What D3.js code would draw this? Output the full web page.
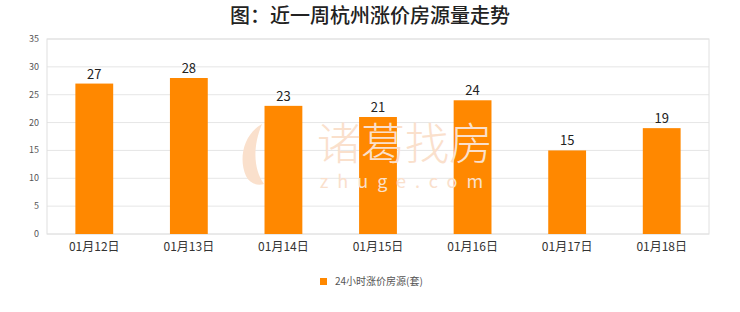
<!DOCTYPE html>
<html>
<head>
<meta charset="utf-8">
<script src="https://cdn.jsdelivr.net/npm/d3@7"></script>
<style>
  body { margin:0; background:#fff; }
  svg text { font-family: "Noto Sans CJK SC", "DejaVu Sans", sans-serif; }
</style>
</head>
<body>
<div id="chart"></div>
<script>
// data
const dates = ["01月12日","01月13日","01月14日","01月15日","01月16日","01月17日","01月18日"];
const counts = [27, 28, 23, 21, 24, 15, 19];
const yTicks = [0, 5, 10, 15, 20, 25, 30, 35];
const seriesName = "24小时涨价房源(套)";
const titleText = "图：近一周杭州涨价房源量走势";

const W = 740, H = 312;
const margin = {top: 39, right: 31, bottom: 78, left: 47};
const width = W - margin.left - margin.right;
const height = H - margin.top - margin.bottom;
const serif = "'Liberation Serif', 'DejaVu Serif', 'Noto Sans CJK SC', serif";

let svg = d3.select("#chart").append("svg")
    .attr("width", W)
    .attr("height", H);

svg.append("rect").attr("width", W).attr("height", H).attr("fill", "#ffffff");

svg.append("text")
    .attr("x", W / 2)
    .attr("y", 23)
    .attr("text-anchor", "middle")
    .attr("font-size", 20)
    .attr("font-weight", 500)
    .attr("fill", "#222")
    .text(titleText);

let plot = svg.append("g")
    .attr("transform", "translate(" + margin.left + "," + margin.top + ")");

let x = d3.scaleBand().domain(dates).range([0, width]).paddingInner(0.6).paddingOuter(0.3);
let y = d3.scaleLinear().domain([0, 35]).range([height, 0]);

// grid lines
plot.selectAll("line.grid")
    .data(yTicks)
    .enter()
        .append("line")
        .attr("class", "grid")
        .attr("x1", 0).attr("x2", width)
        .attr("y1", d => y(d)).attr("y2", d => y(d))
        .attr("stroke", "#e6e6e6")
        .attr("stroke-width", 1);

// plot frame
plot.append("rect")
    .attr("x", 0).attr("y", 0)
    .attr("width", width).attr("height", height)
    .attr("fill", "none")
    .attr("stroke", "#e0e0e0");

// faint watermark behind the bars
let wm = svg.append("g").attr("fill", "#fae0cc");
wm.append("path")
    .attr("d", "M262,124 C244,134 238,158 246,176 C250,184 258,186 264,184 C254,170 252,148 262,124 Z");
wm.append("text")
    .attr("x", 405).attr("y", 160)
    .attr("text-anchor", "middle")
    .attr("font-size", 44)
    .attr("font-weight", 300)
    .text("诸葛找房");
wm.append("text")
    .attr("x", 406).attr("y", 188)
    .attr("text-anchor", "middle")
    .attr("font-size", 18)
    .attr("letter-spacing", 9)
    .text("zhuge.com");

// y axis labels
plot.selectAll("text.ytick")
    .data(yTicks)
    .enter()
        .append("text")
        .attr("class", "ytick")
        .attr("x", -8)
        .attr("y", d => y(d) + 3)
        .attr("text-anchor", "end")
        .attr("font-size", 9)
        .attr("fill", "#555")
        .attr("font-family", "Roboto, 'DejaVu Sans', sans-serif")
        .text(d => d);

// bars
plot.selectAll("rect.bar")
    .data(counts)
    .enter()
        .append("rect")
        .attr("class", "bar")
        .attr("x", (d, i) => x(dates[i]))
        .attr("y", d => y(d))
        .attr("width", x.bandwidth())
        .attr("height", d => height - y(d))
        .attr("fill", "#ff8800");

// value labels
plot.selectAll("text.val")
    .data(counts)
    .enter()
        .append("text")
        .attr("class", "val")
        .attr("x", (d, i) => x(dates[i]) + x.bandwidth() / 2)
        .attr("y", d => y(d) - 5)
        .attr("text-anchor", "middle")
        .attr("font-size", 13)
        .attr("fill", "#222")
        .attr("font-family", "'DejaVu Sans', sans-serif")
        .text(d => d);

// x axis labels
plot.selectAll("text.xtick")
    .data(dates)
    .enter()
        .append("text")
        .attr("class", "xtick")
        .attr("x", d => x(d) + x.bandwidth() / 2)
        .attr("y", height + 17)
        .attr("text-anchor", "middle")
        .attr("font-size", 12)
        .attr("fill", "#333")
        .attr("font-family", serif)
        .text(d => d);

// legend
let legend = svg.append("g").attr("transform", "translate(320,278)");
legend.append("rect")
    .attr("x", 0).attr("y", 0)
    .attr("width", 7).attr("height", 7)
    .attr("fill", "#ff8800");
legend.append("text")
    .attr("x", 15).attr("y", 7)
    .attr("font-size", 10)
    .attr("fill", "#555")
    .attr("font-family", serif)
    .text(seriesName);
</script>
</body>
</html>
